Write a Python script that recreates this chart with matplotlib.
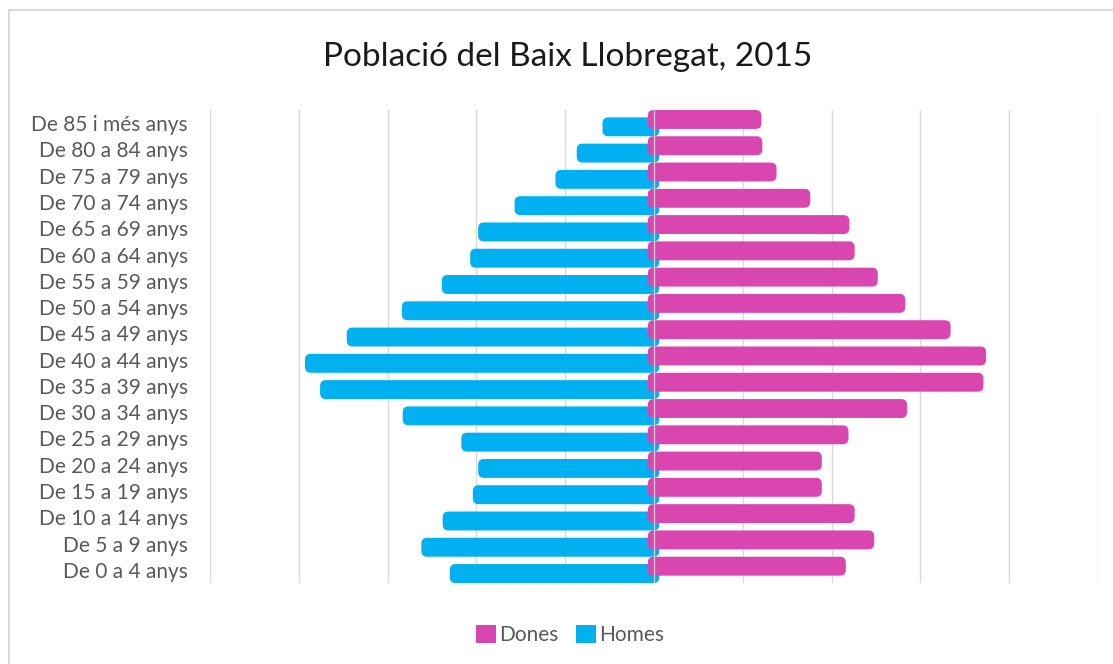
import matplotlib.pyplot as plt
from matplotlib.patches import FancyBboxPatch, Patch, Rectangle

# age groups, bottom to top
ages = ['De 0 a 4 anys', 'De 5 a 9 anys', 'De 10 a 14 anys', 'De 15 a 19 anys',
        'De 20 a 24 anys', 'De 25 a 29 anys', 'De 30 a 34 anys', 'De 35 a 39 anys',
        'De 40 a 44 anys', 'De 45 a 49 anys', 'De 50 a 54 anys', 'De 55 a 59 anys',
        'De 60 a 64 anys', 'De 65 a 69 anys', 'De 70 a 74 anys', 'De 75 a 79 anys',
        'De 80 a 84 anys', 'De 85 i més anys']
homes = [23000, 26200, 23800, 20400, 19800, 21700, 28300, 37600, 39300,
         34600, 28400, 23900, 20700, 19800, 15700, 11100, 8700, 5800]
dones = [21600, 24800, 22600, 18900, 18900, 21900, 28500, 37100, 37400,
         33400, 28300, 25200, 22600, 22000, 17600, 13800, 12200, 12100]

blue = '#00B0F0'
pink = '#D946B0'
grey = '#595959'

fig = plt.figure(figsize=(11.13, 6.64), dpi=100)
ax = fig.add_axes([210 / 1113, 81 / 664, 888 / 1113, 473 / 664])

y = list(range(len(ages)))
h = 0.72
off = 0.14

# bars, slightly past the centre like the original
hb = ax.barh([v - off for v in y], [-(v + 600) for v in homes], left=600,
             height=h, color=blue, zorder=2)
db = ax.barh([v + off for v in y], [v + 700 for v in dones], left=-700,
             height=h, color=pink, zorder=3)

# swap the plain rectangles for rounded ones
for bars in (hb, db):
    for r in bars:
        x0, y0 = r.get_x(), r.get_y()
        w, hh = r.get_width(), r.get_height()
        if w < 0:
            x0, w = x0 + w, -w
        fb = FancyBboxPatch((x0, y0), w, hh,
                            boxstyle='round,pad=0,rounding_size=650',
                            mutation_aspect=3.4e-4,
                            facecolor=r.get_facecolor(), edgecolor='none',
                            zorder=r.get_zorder())
        r.remove()
        ax.add_patch(fb)

ax.axvline(0, color='#c8c8c8', lw=1, zorder=5)

ax.set_xlim(-50000, 50000)
ax.set_ylim(-0.5, len(ages) - 0.5)
ax.set_xticks(range(-50000, 50001, 10000))
ax.set_xticklabels([])
ax.tick_params(axis='x', length=0)
ax.grid(axis='x', color='#d9d9d9', lw=1, zorder=0)
ax.set_axisbelow(True)
ax.set_yticks(y)
ax.set_yticklabels(ages, fontsize=15, color=grey, family='Lato')
ax.tick_params(axis='y', length=0, pad=16)
for s in ax.spines.values():
    s.set_visible(False)

fig.text(0.51, 1 - 57 / 664, 'Població del Baix Llobregat, 2015',
         ha='center', va='center', fontsize=24, family='Lato', color='#1a1a1a')

handles = [Patch(facecolor=pink, label='Dones'), Patch(facecolor=blue, label='Homes')]
leg = fig.legend(handles=handles, loc='center', bbox_to_anchor=(570 / 1113, 1 - 635 / 664),
                 ncol=2, frameon=False, handlelength=1.0, handleheight=1.0,
                 handletextpad=0.15, columnspacing=0.8,
                 prop={'family': 'Lato', 'size': 15})
for t in leg.get_texts():
    t.set_color(grey)

# chart border
fig.patches.append(Rectangle((9 / 1113, -0.1), 1.2, 1.1 - 10 / 664, transform=fig.transFigure,
                             fill=False, edgecolor='#d9d9d9', lw=1.5))

fig.savefig('out.png', dpi=100)
